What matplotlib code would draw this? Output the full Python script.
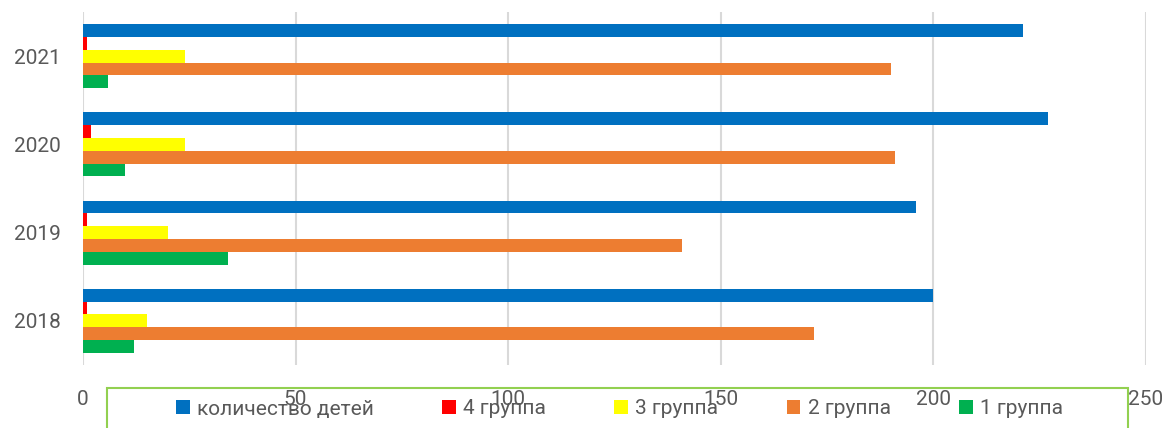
import matplotlib

matplotlib.use("Agg")
import matplotlib.pyplot as plt
import numpy as np
from matplotlib.patches import Rectangle

plt.rcParams["font.family"] = ["Roboto", "DejaVu Sans"]

years = ["2018", "2019", "2020", "2021"]
series_names = ["количество детей", "4 группа", "3 группа", "2 группа", "1 группа"]
kids = [200, 196, 227, 221]
group4 = [1, 1, 2, 1]
group3 = [15, 20, 24, 24]
group2 = [172, 141, 191, 190]
group1 = [12, 34, 10, 6]
colors = ["#0070C0", "#FF0000", "#FFFF00", "#ED7D31", "#00B050"]
xticks = [0, 50, 100, 150, 200, 250]

TEXT = "#595959"
GRID = "#D9D9D9"

fig = plt.figure(figsize=(11.62, 4.28), dpi=100)
ax = fig.add_axes([0.0714, 0.1472, 0.9148, 0.8248])

y = np.arange(len(years))
h = 0.145
values = [kids, group4, group3, group2, group1]
offsets = [2, 1, 0, -1, -2]
for vals, off, col, name in zip(values, offsets, colors, series_names):
    ax.barh(y + off * h, vals, height=h, color=col, label=name, zorder=3)

ax.set_xlim(0, 250)
ax.set_ylim(-0.5, 3.5)
ax.set_xticks(xticks)
ax.set_yticks(y)
ax.set_yticklabels(years)
ax.grid(axis="x", color=GRID, linewidth=1.5, zorder=0)
ax.tick_params(axis="both", length=0, labelsize=15, colors=TEXT)
ax.tick_params(axis="x", pad=18)
ax.tick_params(axis="y", pad=16)
for spine in ax.spines.values():
    spine.set_visible(False)

# legend frame, partly cut off by the bottom edge like in the source
frame = Rectangle((107 / 1162, -0.05), (1128 - 107) / 1162, 0.05 + (428 - 388) / 428,
                  transform=fig.transFigure, fill=False, edgecolor="#92D050", linewidth=1.5)
fig.patches.append(frame)

handles, labels = ax.get_legend_handles_labels()
fig.legend(handles, labels, loc="center", ncol=5, frameon=False,
           bbox_to_anchor=(619.5 / 1162, 1 - 409 / 428), fontsize=15,
           labelcolor=TEXT, handlelength=0.67, handleheight=0.67,
           handletextpad=0.34, columnspacing=3.27, borderaxespad=0, borderpad=0)

fig.savefig("out.png", dpi=100, facecolor="white")
